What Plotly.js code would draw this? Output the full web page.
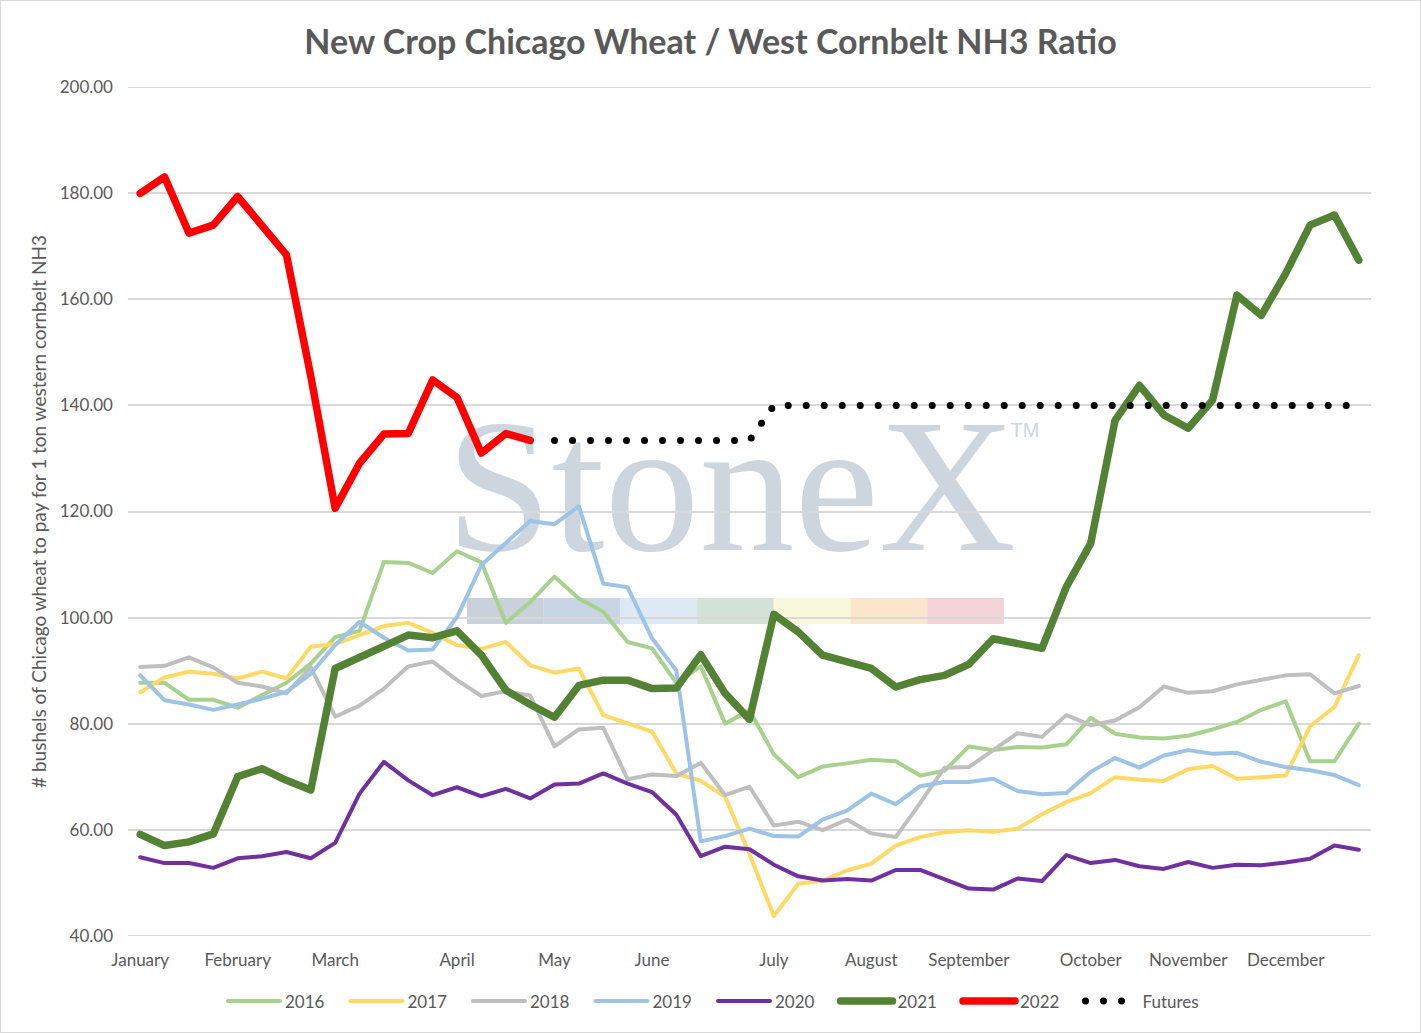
<!DOCTYPE html>
<html>
<head>
<meta charset="utf-8">
<script src="https://cdn.plot.ly/plotly-3.0.1.min.js"></script>
<style>
body { margin: 0; background: #fff; }
#frame { width: 1421px; height: 1033px; box-sizing: border-box; border: 1px solid #d9d9d9; }
#chart { width: 1419px; height: 1031px; }
.js-line { stroke-linecap: round; stroke-linejoin: round; }
</style>
</head>
<body>
<div id="frame"><div id="chart"></div></div>
<script>
// weekly points, Jan -> Dec (51 weeks)
const weeks = [0, 1, 2, 3, 4, 5, 6, 7, 8, 9, 10, 11, 12, 13, 14, 15, 16, 17, 18, 19, 20,
    21, 22, 23, 24, 25, 26, 27, 28, 29, 30, 31, 32, 33, 34, 35, 36, 37, 38, 39, 40,
    41, 42, 43, 44, 45, 46, 47, 48, 49, 50];
const monthLabels = ["January", "February", "March", "April", "May", "June", "July",
    "August", "September", "October", "November", "December"];
const monthWeek = [0, 4, 8, 13, 17, 21, 26, 30, 34, 39, 43, 47];
const yTicks = [40, 60, 80, 100, 120, 140, 160, 180, 200];

const y2016 = [87.7, 87.7, 84.5, 84.5, 83.0, 85.3, 87.7, 91.3, 96.3, 97.5, 110.5, 110.3, 108.4,
    112.5, 110.4, 99.0, 102.9, 107.7, 103.6, 101.1, 95.4, 94.2, 87.7, 90.8, 80.0, 82.5,
    74.2, 69.9, 71.9, 72.5, 73.2, 72.9, 70.2, 71.1, 75.7, 75.0, 75.6, 75.5, 76.1, 81.1,
    78.1, 77.4, 77.2, 77.7, 78.9, 80.3, 82.6, 84.2, 72.9, 72.9, 80.0];
const y2017 = [85.9, 88.7, 89.8, 89.4, 88.5, 89.8, 88.5, 94.5, 95.0, 96.7, 98.4, 99.0, 97.1,
    94.8, 94.1, 95.4, 91.0, 89.6, 90.4, 81.6, 80.1, 78.5, 70.6, 69.2, 66.2, 55.4,
    43.7, 49.8, 50.4, 52.3, 53.6, 57.0, 58.6, 59.5, 59.9, 59.6, 60.2, 62.9, 65.2, 66.9,
    69.9, 69.4, 69.2, 71.4, 72.0, 69.6, 69.9, 70.2, 79.5, 83.1, 92.9];
const y2018 = [90.7, 90.9, 92.5, 90.6, 87.7, 87.0, 85.7, 90.6, 81.3, 83.4, 86.6, 90.8, 91.7,
    88.2, 85.2, 86.1, 85.3, 75.7, 78.9, 79.2, 69.5, 70.4, 70.1, 72.6, 66.5, 68.1,
    60.8, 61.5, 59.9, 61.9, 59.3, 58.6, 65.0, 71.7, 71.8, 75.0, 78.2, 77.5, 81.6, 79.7,
    80.6, 83.1, 87.0, 85.8, 86.1, 87.4, 88.2, 89.1, 89.3, 85.7, 87.1];
const y2019 = [89.1, 84.4, 83.6, 82.6, 83.6, 84.7, 86.0, 89.4, 94.8, 99.2, 96.2, 93.8, 94.0,
    100.1, 109.9, 114.0, 118.2, 117.6, 121.0, 106.4, 105.7, 96.1, 90.0, 57.8, 58.8, 60.2,
    58.8, 58.7, 61.9, 63.6, 66.8, 64.8, 68.2, 69.0, 69.0, 69.6, 67.3, 66.7, 66.9, 70.9,
    73.5, 71.7, 74.0, 75.0, 74.3, 74.5, 72.8, 71.8, 71.2, 70.3, 68.4];
const y2020 = [54.8, 53.7, 53.7, 52.8, 54.6, 55.0, 55.8, 54.6, 57.5, 66.8, 72.8, 69.3, 66.5,
    68.0, 66.3, 67.7, 65.9, 68.5, 68.7, 70.6, 68.7, 67.1, 62.8, 55.0, 56.8, 56.3,
    53.4, 51.2, 50.4, 50.7, 50.4, 52.4, 52.4, 50.6, 48.9, 48.7, 50.8, 50.3, 55.2, 53.7,
    54.3, 53.1, 52.6, 53.9, 52.8, 53.4, 53.3, 53.8, 54.5, 57.0, 56.2];
const y2021 = [59.1, 57.0, 57.7, 59.2, 70.0, 71.5, 69.3, 67.5, 90.4, 92.6, 94.6, 96.7, 96.2,
    97.5, 92.9, 86.3, 83.6, 81.2, 87.2, 88.2, 88.2, 86.6, 86.7, 93.0, 85.7, 80.8,
    100.6, 97.3, 92.9, 91.6, 90.4, 86.9, 88.3, 89.1, 91.2, 96.0, 95.1, 94.2, 105.8, 114.0,
    137.2, 143.8, 138.2, 135.7, 141.0, 160.8, 157.0, 164.9, 174.0, 175.9, 167.4];
const y2022 = [180.0, 183.1, 172.5, 174.0, 179.4, 174.0, 168.4, 145.5, 120.6, 129.1, 134.6,
    134.7, 144.8, 141.5, 131.0, 134.7, 133.4];
const futures = [null, null, null, null, null, null, null, null, null, null, null, null, null,
    null, null, null, null, 133.4, 133.4, 133.4, 133.4, 133.4, 133.4, 133.4, 133.4, 133.4,
    140.0, 140.0, 140.0, 140.0, 140.0, 140.0, 140.0, 140.0, 140.0, 140.0, 140.0, 140.0,
    140.0, 140.0, 140.0, 140.0, 140.0, 140.0, 140.0, 140.0, 140.0, 140.0, 140.0, 140.0, 140.0];

let series = [
    { name: "2016", y: y2016, color: "#A9D18E", width: 4 },
    { name: "2017", y: y2017, color: "#FFD966", width: 4 },
    { name: "2018", y: y2018, color: "#BFBFBF", width: 4 },
    { name: "2019", y: y2019, color: "#9DC3E6", width: 4 },
    { name: "2020", y: y2020, color: "#7030A0", width: 4 },
    { name: "2021", y: y2021, color: "#548235", width: 7.5 },
    { name: "2022", y: y2022, color: "#FF0000", width: 7.5 },
];

let data = series.map(function(s) {
    return {
        x: weeks.slice(0, s.y.length),
        y: s.y,
        name: s.name,
        type: "scatter",
        mode: "lines",
        line: { color: s.color, width: s.width },
        hoverinfo: "x+y+name"
    };
});
data.push({
    x: weeks,
    y: futures,
    name: "Futures",
    type: "scatter",
    mode: "lines",
    line: { color: "#000000", width: 7, dash: "0px,18px" }
});

// page pixel -> paper fraction (plot area 128..1371 x 87.3..935.7)
function px(x) { return (x - 128) / 1243; }
function py(y) { return (935.7 - y) / 848.4; }

// top and bottom gridlines sit on the range ends, draw them as shapes
let shapes = [yTicks[0], yTicks[yTicks.length - 1]].map(function(v) {
    return {
        type: "line", xref: "paper", yref: "y", layer: "below",
        x0: 0, x1: 1, y0: v, y1: v,
        line: { color: "#d9d9d9", width: 1.5 }
    };
});

// StoneX watermark (logo text + colour strip)
let barColors = ["#c9d1dd", "#c8d5e5", "#dde9f4", "#d3e2d7", "#f9f7dc", "#fbe6cd", "#f2d3d7"];
barColors.forEach(function(c, i) {
    shapes.push({
        type: "rect", xref: "paper", yref: "paper", layer: "below",
        x0: px(467 + i * 76.7), x1: px(467 + (i + 1) * 76.7),
        y0: py(624), y1: py(598),
        fillcolor: c, line: { width: 0 }
    });
});
shapes.push({
    type: "rect", xref: "paper", yref: "paper", layer: "below",
    x0: px(721), x1: px(741), y0: py(475), y1: py(455),
    fillcolor: "rgba(0,0,0,0)", line: { width: 0 },
    label: { text: "StoneX", textposition: "middle center",
        font: { family: "Liberation Serif, serif", size: 190, color: "#cdd5df" } }
});
shapes.push({
    type: "rect", xref: "paper", yref: "paper", layer: "below",
    x0: px(1020), x1: px(1030), y0: py(433), y1: py(423),
    fillcolor: "rgba(0,0,0,0)", line: { width: 0 },
    label: { text: "TM", textposition: "middle center",
        font: { family: "Liberation Sans, sans-serif", size: 20, color: "#cdd5df" } }
});

let layout = {
    width: 1419,
    height: 1031,
    margin: { l: 127, r: 49, t: 86, b: 96 },
    paper_bgcolor: "#ffffff",
    plot_bgcolor: "#ffffff",
    font: { family: "Lato, sans-serif", size: 17, color: "#595959" },
    title: {
        text: "<b>New Crop Chicago Wheat / West Cornbelt NH3 Ratio</b>",
        font: { family: "Lato, sans-serif", size: 34, color: "#595959" },
        x: 0.5, xanchor: "center", y: 0.96, yanchor: "middle"
    },
    xaxis: {
        range: [-0.5, 50.5],
        tickmode: "array",
        tickvals: monthWeek,
        ticktext: monthLabels,
        showgrid: false,
        zeroline: false,
        showline: false,
        ticks: "",
        ticklabelstandoff: 12,
        fixedrange: true
    },
    yaxis: {
        range: [39.95, 200.05],
        tickvals: yTicks,
        tickformat: ".2f",
        gridcolor: "#d9d9d9",
        gridwidth: 1.5,
        zeroline: false,
        showline: false,
        ticks: "",
        ticklabelstandoff: 14,
        title: {
            text: "# bushels of Chicago wheat to pay for 1 ton western cornbelt NH3",
            standoff: 8,
            font: { family: "Lato, sans-serif", size: 19, color: "#595959" }
        },
        fixedrange: true
    },
    showlegend: true,
    legend: {
        orientation: "h",
        x: px(223), xanchor: "left",
        y: py(1001), yanchor: "middle",
        itemwidth: 52,
        entrywidth: 55.5,
        font: { size: 17, color: "#595959" }
    },
    shapes: shapes
};

Plotly.newPlot("chart", data, layout, { displayModeBar: false, responsive: false });
</script>
</body>
</html>
